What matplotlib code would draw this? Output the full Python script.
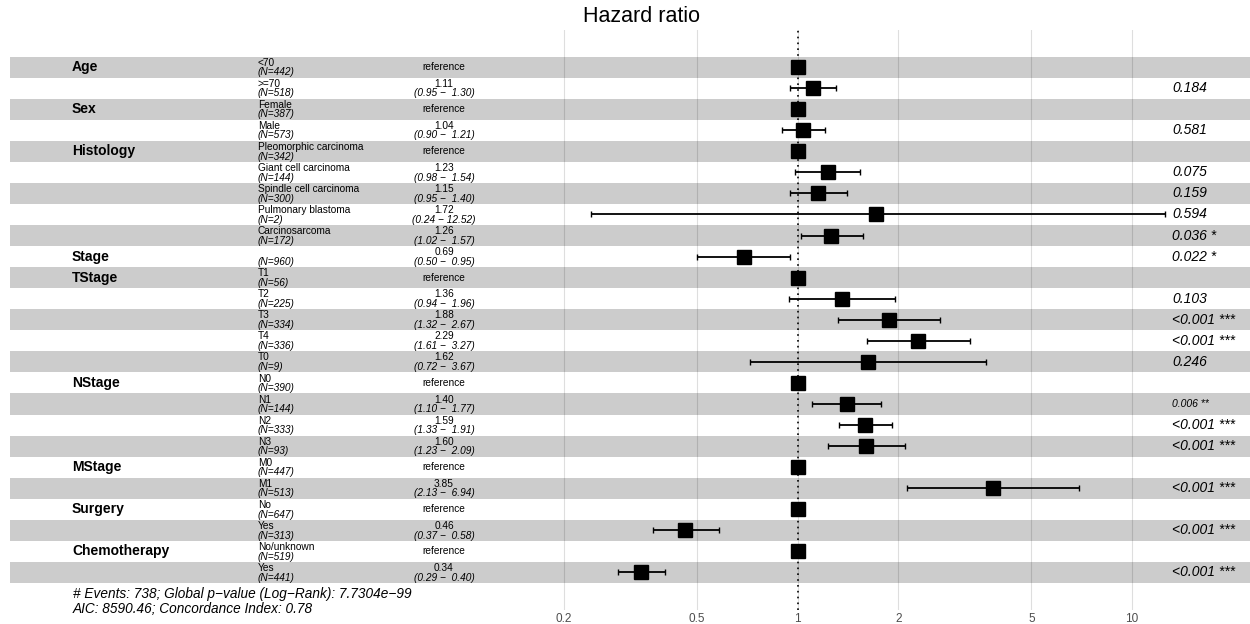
import matplotlib
matplotlib.use("Agg")
import matplotlib.pyplot as plt
from matplotlib.transforms import blended_transform_factory
import numpy as np

plt.rcParams['font.family'] = ['Liberation Sans', 'DejaVu Sans']

# one entry per row, top to bottom
variables = ["Age", "", "Sex", "", "Histology", "", "", "", "", "Stage", "TStage", "", "", "", "",
             "NStage", "", "", "", "MStage", "", "Surgery", "", "Chemotherapy", ""]
levels = ["<70", ">=70", "Female", "Male", "Pleomorphic carcinoma", "Giant cell carcinoma",
          "Spindle cell carcinoma", "Pulmonary blastoma", "Carcinosarcoma", "",
          "T1", "T2", "T3", "T4", "T0", "N0", "N1", "N2", "N3", "M0", "M1",
          "No", "Yes", "No/unknown", "Yes"]
counts = [442, 518, 387, 573, 342, 144, 300, 2, 172, 960, 56, 225, 334, 336, 9,
          390, 144, 333, 93, 447, 513, 647, 313, 519, 441]
hr = [1, 1.11, 1, 1.04, 1, 1.23, 1.15, 1.72, 1.26, 0.69, 1, 1.36, 1.88, 2.29, 1.62,
      1, 1.40, 1.59, 1.60, 1, 3.85, 1, 0.46, 1, 0.34]
ci_low = [np.nan, 0.95, np.nan, 0.90, np.nan, 0.98, 0.95, 0.24, 1.02, 0.50, np.nan, 0.94, 1.32, 1.61, 0.72,
          np.nan, 1.10, 1.33, 1.23, np.nan, 2.13, np.nan, 0.37, np.nan, 0.29]
ci_high = [np.nan, 1.30, np.nan, 1.21, np.nan, 1.54, 1.40, 12.52, 1.57, 0.95, np.nan, 1.96, 2.67, 3.27, 3.67,
           np.nan, 1.77, 1.91, 2.09, np.nan, 6.94, np.nan, 0.58, np.nan, 0.40]
pvals = ["", "0.184", "", "0.581", "", "0.075", "0.159", "0.594", "0.036 *", "0.022 *",
         "", "0.103", "<0.001 ***", "<0.001 ***", "0.246", "", "0.006 **", "<0.001 ***", "<0.001 ***",
         "", "<0.001 ***", "", "<0.001 ***", "", "<0.001 ***"]
breaks = [0.2, 0.5, 1, 2, 5, 10]
footer = ["# Events: 738; Global p\u2212value (Log\u2212Rank): 7.7304e\u221299",
          "AIC: 8590.46; Concordance Index: 0.78"]

W, H = 1250, 624
fig = plt.figure(figsize=(12.5, 6.24), dpi=100)

# panel in pixels: x 10..1250, y 30..610
ax = fig.add_axes([10 / W, (H - 610) / H, 1240 / W, 580 / H])
n = len(hr)
rows = np.arange(1, n + 1)
row_h = (583 - 56.5) / n
y0 = 56.5 + row_h / 2
ax.set_ylim(1 + (610 - y0) / row_h, 1 + (30 - y0) / row_h)
ax.set_xscale('log')
dec = 334.3
x1 = 797.7
ax.set_xlim(10 ** ((10 - x1) / dec), 10 ** ((1250 - x1) / dec))

for s in ax.spines.values():
    s.set_visible(False)
ax.set_xticks(breaks)
ax.set_xticklabels(["%g" % b for b in breaks], fontsize=8.5, color='#4d4d4d')
ax.xaxis.set_minor_locator(matplotlib.ticker.NullLocator())
ax.tick_params(axis='x', length=0, pad=2)
ax.set_yticks([])
ax.grid(axis='x', color='#dedede', lw=0.8, zorder=0)
ax.set_axisbelow(True)

for i, r in enumerate(rows):
    if i % 2 == 0:
        ax.axhspan(r - 0.5, r + 0.5, color='black', alpha=0.2, lw=0, zorder=1)

ax.axvline(1, color='black', ls=(0, (1, 2.5)), lw=1.2, zorder=2)

hr_a = np.array(hr)
lo = np.array(ci_low)
hi = np.array(ci_high)
ok = ~np.isnan(lo)
ax.errorbar(hr_a[ok], rows[ok], xerr=[hr_a[ok] - lo[ok], hi[ok] - hr_a[ok]],
            fmt='none', ecolor='black', elinewidth=1.3, capsize=2.3, capthick=1.0, zorder=3)
ax.plot(hr_a, rows, 's', color='black', ms=10, zorder=4)

# text columns
tr = blended_transform_factory(fig.transFigure, ax.transData)
for i, r in enumerate(rows):
    if variables[i]:
        ax.text(72 / W, r, variables[i], transform=tr, fontsize=10, fontweight='bold',
                ha='left', va='center')
    if levels[i]:
        ax.text(258 / W, r - 0.21, levels[i], transform=tr, fontsize=7.3, ha='left', va='center')
    ax.text(258 / W, r + 0.25, "(N=%d)" % counts[i], transform=tr, fontsize=7.3,
            style='italic', ha='left', va='center')
    if np.isnan(lo[i]):
        ax.text(444 / W, r, "reference", transform=tr, fontsize=7.3, ha='center', va='center')
    else:
        ax.text(444 / W, r - 0.21, "%.2f" % hr[i], transform=tr, fontsize=7.3,
                ha='center', va='center')
        ci = "(%.2f \u2212 %5.2f)" % (lo[i], hi[i])
        ax.text(444 / W, r + 0.25, ci, transform=tr, fontsize=7.3, style='italic',
                ha='center', va='center')
    if pvals[i]:
        fs = 7.5 if pvals[i].endswith(" **") else 10
        ax.text(1172 / W, r, pvals[i], transform=tr, fontsize=fs, style='italic',
                ha='left', va='center')

fig.text(642 / W, 1 - 17 / H, "Hazard ratio", fontsize=15.5, ha='center', va='center')
fig.text(73 / W, 1 - 594 / H, footer[0], fontsize=9.8, style='italic', ha='left', va='center')
fig.text(73 / W, 1 - 609 / H, footer[1], fontsize=9.8, style='italic', ha='left', va='center')

fig.savefig("out.png", dpi=100)
